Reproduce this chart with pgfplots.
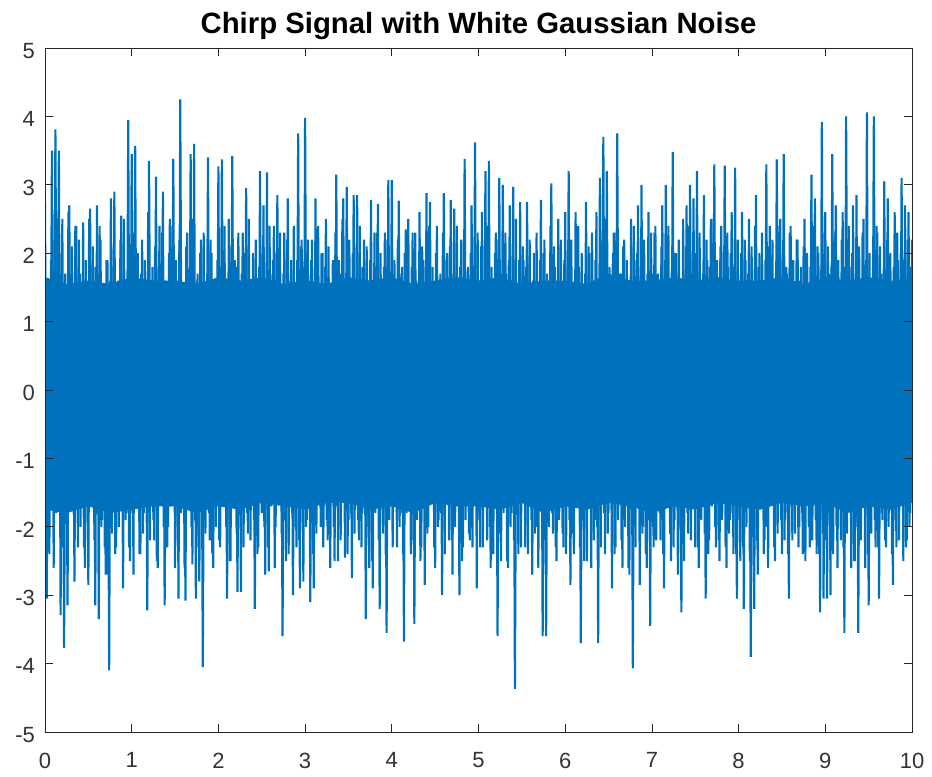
\documentclass[border=0pt]{standalone}
\usepackage{pgfplots}
\pgfplotsset{compat=1.18}
\usetikzlibrary{calc}
\usepackage{fontspec}
\setmainfont{Liberation Sans}
\definecolor{mblue}{RGB}{0,114,189}
\definecolor{axgray}{gray}{0.15}
\definecolor{lblgray}{gray}{0.2}
\begin{document}
\begin{tikzpicture}
\begin{axis}[
  scale only axis, width=650.25pt, height=513pt,
  xmin=0, xmax=10, ymin=-5, ymax=5,
  xtick={0,1,...,10}, ytick={-5,-4,...,5},
  tick align=inside, major tick length=6pt,
  axis line style={color=axgray, line width=0.6pt},
  tick style={color=axgray, line width=0.6pt},
  ticklabel style={font=\fontsize{16.5}{19}\selectfont, color=lblgray},
  xticklabel style={yshift=-12pt},
  yticklabel style={xshift=-4pt, yshift=-2pt},
  /pgf/number format/assume math mode=true,
  title={Chirp Signal with White Gaussian Noise},
  title style={font=\fontsize{22}{26}\selectfont\bfseries, color=black, yshift=-3pt},
  axis on top,
]
% dense core of the signal
\addplot[fill=mblue, draw=none] coordinates {
(0,1.65) (0.25,1.55) (0.5,1.6) (0.75,1.55) (1,1.65) (1.25,1.6) (1.5,1.6) (1.75,1.55) (2,1.65) (2.25,1.6)
(2.5,1.65) (2.75,1.55) (3,1.6) (3.25,1.55) (3.5,1.65) (3.75,1.6) (4,1.65) (4.25,1.55) (4.5,1.6) (4.75,1.65)
(5,1.6) (5.25,1.65) (5.5,1.55) (5.75,1.6) (6,1.6) (6.25,1.55) (6.5,1.7) (6.75,1.6) (7,1.6) (7.25,1.65)
(7.5,1.6) (7.75,1.65) (8,1.6) (8.25,1.6) (8.5,1.65) (8.75,1.55) (9,1.65) (9.25,1.6) (9.5,1.65) (9.75,1.6) (10,1.6)
(10,-1.65) (9.75,-1.75) (9.5,-1.7) (9.25,-1.8) (9,-1.65) (8.75,-1.7) (8.5,-1.65) (8.25,-1.75) (8,-1.7) (7.75,-1.65)
(7.5,-1.75) (7.25,-1.7) (7,-1.8) (6.75,-1.7) (6.5,-1.65) (6.25,-1.75) (6,-1.7) (5.75,-1.8) (5.5,-1.65) (5.25,-1.75)
(5,-1.7) (4.75,-1.7) (4.5,-1.65) (4.25,-1.8) (4,-1.7) (3.75,-1.75) (3.5,-1.65) (3.25,-1.65) (3,-1.75) (2.75,-1.7)
(2.5,-1.65) (2.25,-1.75) (2,-1.7) (1.75,-1.8) (1.5,-1.7) (1.25,-1.7) (1,-1.75) (0.75,-1.8) (0.5,-1.7) (0.25,-1.8) (0,-1.75)
};
% noisy signal, samples at even hundredths
\addplot[color=mblue, line width=1.6pt] coordinates {
(0.00,2.75) (0.02,-3.05) (0.04,1.6) (0.06,-1.7) (0.08,3.5) (0.10,-2.6) (0.12,3.81) (0.14,-1.5) (0.16,3.5) (0.18,-3.29)
(0.20,2.5) (0.22,-3.77) (0.24,1.4) (0.26,-3.15) (0.28,2.7) (0.30,-1.6) (0.32,1.3) (0.34,-2.8) (0.36,2.4) (0.38,-2.3)
(0.40,1.7) (0.42,-1.4) (0.44,2.45) (0.46,-2.6) (0.48,1.2) (0.50,-2.85) (0.52,2.65) (0.54,-1.5) (0.56,1.8) (0.58,-3.15)
(0.60,2.7) (0.62,-3.35) (0.64,2.2) (0.66,-1.9) (0.68,1.5) (0.70,-2.7) (0.72,1.9) (0.74,-4.1) (0.76,2.8) (0.78,-1.6)
(0.80,2.9) (0.82,-2.3) (0.84,1.6) (0.86,-1.3) (0.88,2.55) (0.90,-2.9) (0.92,1.4) (0.94,-1.8) (0.96,3.95) (0.98,-2.5)
(1.00,3.45) (1.02,-2.7) (1.04,3.57) (1.06,-1.5) (1.08,1.5) (1.10,-2.4) (1.12,2.2) (1.14,-1.8) (1.16,1.3) (1.18,-3.22)
(1.20,3.35) (1.22,-1.4) (1.24,1.8) (1.26,-2.2) (1.28,3.12) (1.30,-2.6) (1.32,2.4) (1.34,-1.6) (1.36,2.9) (1.38,-3.15)
(1.40,1.4) (1.42,-2.0) (1.44,2.5) (1.46,-1.3) (1.48,3.38) (1.50,-2.6) (1.52,1.6) (1.54,-3.05) (1.56,4.25) (1.58,-1.7)
(1.60,1.3) (1.62,-3.08) (1.64,2.3) (1.66,-1.5) (1.68,3.45) (1.70,-2.55) (1.72,3.6) (1.74,-3.05) (1.76,1.7) (1.78,-2.8)
(1.80,2.2) (1.82,-4.05) (1.84,1.5) (1.86,-1.4) (1.88,3.4) (1.90,-2.2) (1.92,2.0) (1.94,-2.6) (1.96,1.4) (1.98,-1.6)
(2.00,3.27) (2.02,-2.3) (2.04,3.37) (2.06,-1.5) (2.08,1.5) (2.10,-3.05) (2.12,2.5) (2.14,-2.5) (2.16,3.42) (2.18,-1.7)
(2.20,1.8) (2.22,-2.95) (2.24,1.3) (2.26,-2.95) (2.28,2.3) (2.30,-1.6) (2.32,2.95) (2.34,-2.1) (2.36,1.6) (2.38,-1.4)
(2.40,2.0) (2.42,-3.2) (2.44,1.4) (2.46,-2.3) (2.48,3.2) (2.50,-1.8) (2.52,2.7) (2.54,-2.7) (2.56,3.18) (2.58,-2.65)
(2.60,1.7) (2.62,-1.5) (2.64,2.4) (2.66,-2.0) (2.68,2.85) (2.70,-1.3) (2.72,1.5) (2.74,-3.6) (2.76,2.3) (2.78,-2.5)
(2.80,2.8) (2.82,-1.7) (2.84,1.9) (2.86,-3.0) (2.88,1.4) (2.90,-2.3) (2.92,3.75) (2.94,-2.9) (2.96,2.2) (2.98,-2.8)
(3.00,3.98) (3.02,-1.9) (3.04,1.6) (3.06,-3.1) (3.08,2.2) (3.10,-2.9) (3.12,2.8) (3.14,-1.5) (3.16,1.4) (3.18,-2.0)
(3.20,2.0) (3.22,-1.7) (3.24,2.5) (3.26,-2.2) (3.28,1.3) (3.30,-1.4) (3.32,1.9) (3.34,-2.5) (3.36,3.15) (3.38,-2.5)
(3.40,1.7) (3.42,-1.6) (3.44,2.8) (3.46,-2.45) (3.48,2.97) (3.50,-1.9) (3.52,1.5) (3.54,-2.75) (3.56,2.85) (3.58,-1.5)
(3.60,2.85) (3.62,-2.2) (3.64,1.8) (3.66,-1.8) (3.68,2.2) (3.70,-3.35) (3.72,1.4) (3.74,-2.6) (3.76,2.78) (3.78,-2.9)
(3.80,2.3) (3.82,-1.6) (3.84,2.72) (3.86,-3.2) (3.88,1.6) (3.90,-2.1) (3.92,2.3) (3.94,-3.55) (3.96,3.07) (3.98,-1.7)
(4.00,3.07) (4.02,-1.5) (4.04,1.5) (4.06,-2.3) (4.08,2.77) (4.10,-1.8) (4.12,1.8) (4.14,-3.68) (4.16,2.35) (4.18,-1.4)
(4.20,1.3) (4.22,-2.4) (4.24,2.3) (4.26,-3.42) (4.28,1.6) (4.30,-1.7) (4.32,2.6) (4.34,-2.3) (4.36,1.9) (4.38,-2.85)
(4.40,2.88) (4.42,-2.0) (4.44,2.75) (4.46,-1.4) (4.48,1.4) (4.50,-2.6) (4.52,2.4) (4.54,-1.9) (4.56,1.7) (4.58,-3.0)
(4.60,2.88) (4.62,-1.6) (4.64,2.0) (4.66,-2.2) (4.68,2.78) (4.70,-2.7) (4.72,2.65) (4.74,-1.5) (4.76,1.5) (4.78,-3.0)
(4.80,2.2) (4.82,-2.3) (4.84,3.38) (4.86,-1.7) (4.88,1.8) (4.90,-2.2) (4.92,2.7) (4.94,-1.5) (4.96,3.62) (4.98,-2.9)
(5.00,1.6) (5.02,-2.3) (5.04,2.6) (5.06,-1.5) (5.08,3.2) (5.10,-2.2) (5.12,3.35) (5.14,-2.6) (5.16,1.5) (5.18,-1.6)
(5.20,2.3) (5.22,-3.6) (5.24,3.1) (5.26,-2.5) (5.28,3.0) (5.30,-1.4) (5.32,1.7) (5.34,-2.6) (5.36,2.7) (5.38,-1.8)
(5.40,2.97) (5.42,-4.37) (5.44,1.4) (5.46,-2.4) (5.48,2.75) (5.50,-1.6) (5.52,1.9) (5.54,-2.3) (5.56,2.75) (5.58,-1.5)
(5.60,1.5) (5.62,-2.7) (5.64,2.0) (5.66,-2.0) (5.68,1.3) (5.70,-1.7) (5.72,2.78) (5.74,-3.6) (5.76,2.2) (5.78,-3.6)
(5.80,1.6) (5.82,-1.5) (5.84,3.02) (5.86,-2.1) (5.88,1.8) (5.90,-2.5) (5.92,2.5) (5.94,-1.4) (5.96,1.4) (5.98,-2.3)
(6.00,2.6) (6.02,-1.7) (6.04,3.2) (6.06,-2.85) (6.08,1.5) (6.10,-2.4) (6.12,2.6) (6.14,-1.5) (6.16,1.8) (6.18,-3.7)
(6.20,1.3) (6.22,-2.5) (6.24,2.75) (6.26,-1.6) (6.28,2.0) (6.30,-2.6) (6.32,1.6) (6.34,-1.9) (6.36,2.6) (6.38,-3.7)
(6.40,3.1) (6.42,-1.4) (6.44,3.7) (6.46,-2.4) (6.48,3.2) (6.50,-1.8) (6.52,1.5) (6.54,-2.9) (6.56,2.3) (6.58,-2.3)
(6.60,3.75) (6.62,-1.5) (6.64,1.7) (6.66,-2.6) (6.68,2.2) (6.70,-1.7) (6.72,1.4) (6.74,-2.7) (6.76,2.5) (6.78,-4.07)
(6.80,1.9) (6.82,-1.6) (6.84,2.7) (6.86,-2.85) (6.88,3.0) (6.90,-2.0) (6.92,1.6) (6.94,-2.6) (6.96,2.6) (6.98,-3.45)
(7.00,1.7) (7.02,-2.3) (7.04,2.4) (7.06,-1.6) (7.08,1.4) (7.10,-2.2) (7.12,2.7) (7.14,-2.9) (7.16,3.0) (7.18,-1.5)
(7.20,1.6) (7.22,-2.5) (7.24,3.48) (7.26,-1.9) (7.28,2.0) (7.30,-2.7) (7.32,1.5) (7.34,-3.25) (7.36,2.5) (7.38,-1.6)
(7.40,2.7) (7.42,-2.1) (7.44,3.0) (7.46,-1.4) (7.48,2.8) (7.50,-2.3) (7.52,3.2) (7.54,-2.6) (7.56,1.6) (7.58,-1.7)
(7.60,2.85) (7.62,-3.05) (7.64,1.9) (7.66,-2.2) (7.68,2.5) (7.70,-1.5) (7.72,3.3) (7.74,-2.3) (7.76,1.5) (7.78,-2.5)
(7.80,2.4) (7.82,-1.6) (7.84,3.28) (7.86,-2.6) (7.88,1.8) (7.90,-1.9) (7.92,2.6) (7.94,-2.4) (7.96,3.25) (7.98,-3.05)
(8.00,1.6) (8.02,-2.5) (8.04,2.6) (8.06,-3.2) (8.08,1.9) (8.10,-1.7) (8.12,2.5) (8.14,-3.9) (8.16,1.4) (8.18,-3.2)
(8.20,2.85) (8.22,-2.7) (8.24,2.0) (8.26,-1.5) (8.28,1.6) (8.30,-2.2) (8.32,3.3) (8.34,-2.6) (8.36,2.4) (8.38,-1.6)
(8.40,1.5) (8.42,-2.5) (8.44,3.37) (8.46,-1.4) (8.48,2.5) (8.50,-2.4) (8.52,3.45) (8.54,-1.8) (8.56,1.7) (8.58,-3.05)
(8.60,2.4) (8.62,-2.2) (8.64,1.4) (8.66,-1.5) (8.68,2.2) (8.70,-2.0) (8.72,1.8) (8.74,-2.4) (8.76,2.5) (8.78,-1.6)
(8.80,1.5) (8.82,-2.3) (8.84,3.15) (8.86,-1.7) (8.88,2.8) (8.90,-2.4) (8.92,2.0) (8.94,-3.25) (8.96,3.92) (8.98,-3.05)
(9.00,2.6) (9.02,-3.05) (9.04,1.7) (9.06,-3.0) (9.08,3.45) (9.10,-1.6) (9.12,2.7) (9.14,-2.6) (9.16,1.5) (9.18,-2.2)
(9.20,2.6) (9.22,-3.55) (9.24,4.0) (9.26,-1.5) (9.28,1.8) (9.30,-2.6) (9.32,2.7) (9.34,-2.5) (9.36,2.85) (9.38,-3.55)
(9.40,1.6) (9.42,-1.7) (9.44,2.5) (9.46,-2.6) (9.48,4.06) (9.50,-3.15) (9.52,1.4) (9.54,-1.6) (9.56,4.0) (9.58,-2.3)
(9.60,2.3) (9.62,-3.05) (9.64,1.7) (9.66,-1.9) (9.68,3.05) (9.70,-2.3) (9.72,2.8) (9.74,-1.4) (9.76,1.5) (9.78,-2.85)
(9.80,2.6) (9.82,-2.3) (9.84,1.9) (9.86,-1.6) (9.88,3.1) (9.90,-2.5) (9.92,2.7) (9.94,-2.2) (9.96,2.6) (9.98,-1.8)
(10.00,2.2)
};
% noisy signal, samples at odd hundredths
\addplot[color=mblue, line width=1.6pt] coordinates {
(0.01,-2.1) (0.03,1.6) (0.05,-2.4) (0.07,1.9) (0.09,-1.5) (0.11,2.2) (0.13,-1.8) (0.15,2.5) (0.17,-1.4) (0.19,2.0)
(0.21,-2.3) (0.23,1.7) (0.25,-1.9) (0.27,2.6) (0.29,-1.5) (0.31,2.1) (0.33,-1.8) (0.35,2.4) (0.37,-1.6) (0.39,2.2)
(0.41,-2.0) (0.43,1.5) (0.45,-2.3) (0.47,1.9) (0.49,-1.7) (0.51,2.5) (0.53,-1.4) (0.55,2.1) (0.57,-2.2) (0.59,1.8)
(0.61,-1.6) (0.63,2.4) (0.65,-2.0) (0.67,1.5) (0.69,-2.3) (0.71,1.9) (0.73,-2.7) (0.75,1.6) (0.77,-2.1) (0.79,1.8)
(0.81,-2.4) (0.83,1.5) (0.85,-2.0) (0.87,2.2) (0.89,-1.7) (0.91,2.5) (0.93,-1.9) (0.95,1.6) (0.97,-2.3) (0.99,2.0)
(1.01,-1.8) (1.03,2.3) (1.05,-1.5) (1.07,2.0) (1.09,-2.4) (1.11,1.7) (1.13,-2.1) (1.15,1.9) (1.17,-1.6) (1.19,2.6)
(1.21,-2.2) (1.23,1.5) (1.25,-1.9) (1.27,2.1) (1.29,-2.5) (1.31,1.8) (1.33,-1.4) (1.35,2.3) (1.37,-2.0) (1.39,1.6)
(1.41,-2.3) (1.43,2.0) (1.45,-1.7) (1.47,2.4) (1.49,-1.5) (1.51,1.9) (1.53,-2.2) (1.55,2.2) (1.57,-1.8) (1.59,1.5)
(1.61,-2.6) (1.63,2.1) (1.65,-1.6) (1.67,1.8) (1.69,-2.0) (1.71,2.5) (1.73,-1.9) (1.75,1.6) (1.77,-2.3) (1.79,2.0)
(1.81,-1.5) (1.83,2.3) (1.85,-2.1) (1.87,1.7) (1.89,-1.8) (1.91,2.2) (1.93,-2.4) (1.95,1.5) (1.97,-2.0) (1.99,1.9)
(2.01,-2.2) (2.03,1.8) (2.05,-1.6) (2.07,2.4) (2.09,-2.0) (2.11,1.5) (2.13,-2.5) (2.15,2.1) (2.17,-1.7) (2.19,1.9)
(2.21,-2.1) (2.23,2.3) (2.25,-1.5) (2.27,1.7) (2.29,-2.3) (2.31,2.0) (2.33,-1.8) (2.35,2.5) (2.37,-2.2) (2.39,1.6)
(2.41,-1.9) (2.43,2.2) (2.45,-2.4) (2.47,1.8) (2.49,-1.6) (2.51,2.1) (2.53,-2.0) (2.55,1.5) (2.57,-2.3) (2.59,2.4)
(2.61,-1.7) (2.63,1.9) (2.65,-2.6) (2.67,2.0) (2.69,-1.5) (2.71,2.3) (2.73,-2.1) (2.75,1.7) (2.77,-1.9) (2.79,2.2)
(2.81,-2.4) (2.83,1.6) (2.85,-1.8) (2.87,2.4) (2.89,-2.0) (2.91,1.9) (2.93,-2.2) (2.95,2.1) (2.97,-1.6) (2.99,1.8)
(3.01,-2.0) (3.03,2.2) (3.05,-1.7) (3.07,1.9) (3.09,-2.4) (3.11,1.6) (3.13,-2.1) (3.15,2.4) (3.17,-1.5) (3.19,2.0)
(3.21,-2.3) (3.23,1.8) (3.25,-1.9) (3.27,2.1) (3.29,-2.6) (3.31,1.5) (3.33,-2.0) (3.35,2.3) (3.37,-1.7) (3.39,1.9)
(3.41,-2.2) (3.43,2.5) (3.45,-1.6) (3.47,1.7) (3.49,-2.4) (3.51,2.2) (3.53,-1.8) (3.55,2.0) (3.57,-2.1) (3.59,1.6)
(3.61,-1.9) (3.63,2.4) (3.65,-2.3) (3.67,1.8) (3.69,-1.5) (3.71,2.1) (3.73,-2.0) (3.75,1.9) (3.77,-2.5) (3.79,1.6)
(3.81,-1.8) (3.83,2.3) (3.85,-2.2) (3.87,2.0) (3.89,-1.6) (3.91,1.8) (3.93,-2.4) (3.95,2.2) (3.97,-1.9) (3.99,1.7)
(4.01,-2.3) (4.03,1.9) (4.05,-1.6) (4.07,2.2) (4.09,-2.0) (4.11,1.7) (4.13,-2.4) (4.15,2.0) (4.17,-1.8) (4.19,2.5)
(4.21,-1.5) (4.23,1.8) (4.25,-2.2) (4.27,2.3) (4.29,-1.9) (4.31,1.6) (4.33,-2.5) (4.35,2.1) (4.37,-1.7) (4.39,1.9)
(4.41,-2.1) (4.43,2.4) (4.45,-1.6) (4.47,1.8) (4.49,-2.3) (4.51,2.0) (4.53,-2.0) (4.55,1.5) (4.57,-1.8) (4.59,2.3)
(4.61,-2.4) (4.63,1.9) (4.65,-1.5) (4.67,2.1) (4.69,-2.2) (4.71,1.7) (4.73,-2.0) (4.75,2.4) (4.77,-1.7) (4.79,1.8)
(4.81,-2.5) (4.83,2.2) (4.85,-1.9) (4.87,1.6) (4.89,-2.1) (4.91,2.0) (4.93,-2.3) (4.95,1.8) (4.97,-1.6) (4.99,2.3)
(5.01,-1.9) (5.03,2.1) (5.05,-2.3) (5.07,1.6) (5.09,-1.7) (5.11,2.4) (5.13,-2.0) (5.15,1.8) (5.17,-2.4) (5.19,2.0)
(5.21,-1.6) (5.23,2.2) (5.25,-2.1) (5.27,1.7) (5.29,-1.8) (5.31,2.3) (5.33,-2.5) (5.35,1.9) (5.37,-2.0) (5.39,1.6)
(5.41,-2.2) (5.43,2.5) (5.45,-1.7) (5.47,1.9) (5.49,-2.3) (5.51,2.1) (5.53,-1.5) (5.55,1.8) (5.57,-2.4) (5.59,2.2)
(5.61,-1.9) (5.63,1.6) (5.65,-2.1) (5.67,2.3) (5.69,-2.6) (5.71,1.9) (5.73,-1.7) (5.75,2.0) (5.77,-2.2) (5.79,1.7)
(5.81,-2.0) (5.83,2.4) (5.85,-1.8) (5.87,2.1) (5.89,-2.3) (5.91,1.6) (5.93,-1.9) (5.95,2.2) (5.97,-2.1) (5.99,1.9)
(6.01,-2.4) (6.03,1.8) (6.05,-1.9) (6.07,2.2) (6.09,-2.1) (6.11,1.6) (6.13,-1.7) (6.15,2.4) (6.17,-2.3) (6.19,2.0)
(6.21,-1.8) (6.23,1.7) (6.25,-2.5) (6.27,2.1) (6.29,-1.6) (6.31,2.3) (6.33,-2.2) (6.35,1.9) (6.37,-2.0) (6.39,1.6)
(6.41,-2.3) (6.43,2.2) (6.45,-1.8) (6.47,2.5) (6.49,-2.1) (6.51,1.8) (6.53,-1.6) (6.55,2.0) (6.57,-2.4) (6.59,2.3)
(6.61,-1.9) (6.63,1.7) (6.65,-2.2) (6.67,2.1) (6.69,-2.0) (6.71,1.9) (6.73,-2.6) (6.75,1.6) (6.77,-1.8) (6.79,2.4)
(6.81,-2.3) (6.83,2.0) (6.85,-1.7) (6.87,1.8) (6.89,-2.1) (6.91,2.2) (6.93,-2.4) (6.95,1.7) (6.97,-1.9) (6.99,2.3)
(7.01,-2.0) (7.03,2.3) (7.05,-2.2) (7.07,1.7) (7.09,-1.8) (7.11,2.1) (7.13,-2.4) (7.15,1.9) (7.17,-1.6) (7.19,2.4)
(7.21,-2.1) (7.23,1.8) (7.25,-2.3) (7.27,2.0) (7.29,-1.7) (7.31,2.2) (7.33,-2.0) (7.35,1.6) (7.37,-2.5) (7.39,2.1)
(7.41,-1.8) (7.43,2.4) (7.45,-2.2) (7.47,1.9) (7.49,-1.6) (7.51,2.0) (7.53,-2.3) (7.55,2.3) (7.57,-1.9) (7.59,1.7)
(7.61,-2.1) (7.63,2.2) (7.65,-2.4) (7.67,1.8) (7.69,-1.7) (7.71,2.5) (7.73,-2.0) (7.75,1.9) (7.77,-2.2) (7.79,2.1)
(7.81,-1.9) (7.83,1.7) (7.85,-2.3) (7.87,2.3) (7.89,-2.1) (7.91,2.0) (7.93,-1.8) (7.95,1.8) (7.97,-2.4) (7.99,2.2)
(8.01,-1.9) (8.03,2.0) (8.05,-2.3) (8.07,2.2) (8.09,-2.0) (8.11,1.7) (8.13,-2.5) (8.15,2.1) (8.17,-1.8) (8.19,2.4)
(8.21,-2.2) (8.23,1.8) (8.25,-1.7) (8.27,2.3) (8.29,-2.4) (8.31,1.9) (8.33,-2.0) (8.35,2.1) (8.37,-1.6) (8.39,2.2)
(8.41,-2.3) (8.43,1.7) (8.45,-2.1) (8.47,2.4) (8.49,-1.9) (8.51,2.0) (8.53,-2.2) (8.55,1.8) (8.57,-2.4) (8.59,2.3)
(8.61,-1.7) (8.63,1.9) (8.65,-2.1) (8.67,2.2) (8.69,-2.3) (8.71,1.6) (8.73,-1.8) (8.75,2.1) (8.77,-2.5) (8.79,2.0)
(8.81,-2.0) (8.83,1.8) (8.85,-2.2) (8.87,2.4) (8.89,-1.9) (8.91,2.1) (8.93,-2.4) (8.95,1.7) (8.97,-2.1) (8.99,2.3)
(9.01,-2.2) (9.03,2.1) (9.05,-1.9) (9.07,1.8) (9.09,-2.4) (9.11,2.3) (9.13,-2.0) (9.15,1.9) (9.17,-1.7) (9.19,2.2)
(9.21,-2.3) (9.23,1.8) (9.25,-2.1) (9.27,2.4) (9.29,-1.8) (9.31,2.0) (9.33,-2.5) (9.35,1.7) (9.37,-2.0) (9.39,2.1)
(9.41,-2.2) (9.43,2.3) (9.45,-1.7) (9.47,1.9) (9.49,-2.4) (9.51,2.0) (9.53,-2.1) (9.55,1.8) (9.57,-1.9) (9.59,2.4)
(9.61,-2.3) (9.63,2.1) (9.65,-1.8) (9.67,1.7) (9.69,-2.2) (9.71,2.2) (9.73,-2.0) (9.75,2.0) (9.77,-2.4) (9.79,1.8)
(9.81,-1.9) (9.83,2.3) (9.85,-2.2) (9.87,2.0) (9.89,-1.7) (9.91,1.9) (9.93,-2.3) (9.95,2.2) (9.97,-2.0) (9.99,1.8)
};
\end{axis}
\path[draw=none] ($(current axis.south west)+(-33.75pt,-33pt)$) rectangle ($(current axis.north east)+(15pt,36pt)$);
\end{tikzpicture}
\end{document}
